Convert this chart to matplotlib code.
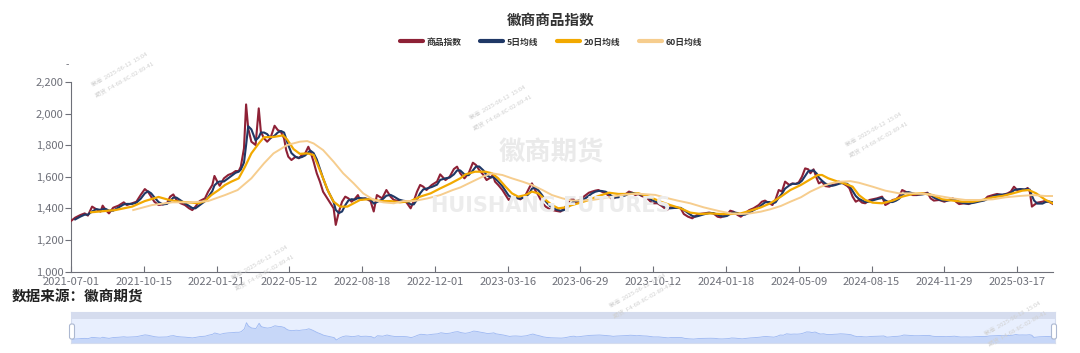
import numpy as np
import matplotlib
matplotlib.use("Agg")
import matplotlib.pyplot as plt
from matplotlib.lines import Line2D
from matplotlib.patches import FancyBboxPatch, Rectangle
from matplotlib.transforms import IdentityTransform
from matplotlib.ticker import FuncFormatter

plt.rcParams['font.family'] = ['Noto Sans CJK SC', 'DejaVu Sans']

# ---------------- data ----------------
title = "徽商商品指数"
series_names = ["商品指数", "5日均线", "20日均线", "60日均线"]
source_text = "数据来源：徽商期货"
tick_labels = ["2021-07-01", "2021-10-15", "2022-01-21", "2022-05-12", "2022-08-18",
               "2022-12-01", "2023-03-16", "2023-06-29", "2023-10-12", "2024-01-18",
               "2024-05-09", "2024-08-15", "2024-11-29", "2025-03-17"]
label_step = 69          # trading days between labelled categories
n_days = 931             # last trading-day index

# commodity index (trading-day index, value)
index_day = [0, 4, 9, 13, 16, 20, 24, 28, 30, 33, 36, 40, 45, 50, 53, 58, 62, 66, 70, 73,
             76, 79, 83, 87, 91, 94, 97, 100, 104, 108, 112, 115, 118, 122, 127, 130, 134, 136, 139, 141,
             145, 149, 153, 156, 159, 161, 164, 166, 168, 171, 175, 178, 180, 183, 186, 189, 193, 196, 199, 202,
             204, 206, 209, 213, 216, 219, 222, 225, 227, 230, 233, 236, 239, 243, 246, 249, 251, 254, 257, 260,
             263, 266, 269, 272, 274, 279, 284, 287, 290, 295, 299, 303, 306, 311, 315, 318, 322, 325, 328, 331,
             334, 337, 342, 347, 350, 355, 359, 363, 366, 369, 373, 377, 381, 384, 387, 391, 394, 398, 400, 402,
             405, 409, 412, 415, 418, 421, 426, 431, 435, 437, 440, 443, 447, 450, 454, 459, 464, 467, 470, 473,
             476, 478, 481, 484, 488, 491, 494, 497, 500, 503, 507, 510, 513, 516, 519, 522, 526, 529, 532, 535,
             538, 541, 545, 548, 551, 556, 560, 565, 568, 573, 578, 581, 585, 589, 592, 595, 600, 605, 609, 613,
             616, 619, 622, 625, 628, 632, 635, 639, 643, 647, 652, 655, 658, 662, 665, 668, 671, 674, 677, 681,
             684, 687, 690, 693, 696, 699, 701, 704, 707, 709, 712, 715, 719, 722, 725, 728, 731, 736, 738, 741,
             744, 747, 750, 753, 757, 760, 764, 769, 772, 775, 779, 782, 785, 788, 791, 794, 798, 802, 807, 812,
             815, 818, 823, 828, 832, 836, 839, 842, 847, 851, 856, 861, 866, 869, 874, 878, 883, 888, 891, 894,
             897, 900, 904, 907, 909, 911, 913, 916, 921, 924, 927, 931]
index_val = [1320, 1341, 1358, 1368, 1354, 1411, 1394, 1379, 1417, 1389, 1368, 1404, 1417, 1438, 1421, 1432, 1442, 1484, 1522, 1505,
             1474, 1442, 1421, 1425, 1432, 1474, 1488, 1453, 1432, 1421, 1400, 1389, 1411, 1446, 1463, 1505, 1548, 1605, 1565, 1543,
             1590, 1611, 1622, 1636, 1636, 1664, 1780, 2058, 1906, 1822, 1801, 2033, 1885, 1843, 1822, 1843, 1923, 1896, 1885, 1843,
             1769, 1727, 1706, 1727, 1717, 1738, 1748, 1790, 1759, 1695, 1622, 1569, 1505, 1463, 1432, 1400, 1295, 1379, 1442, 1474,
             1463, 1442, 1459, 1484, 1453, 1463, 1446, 1380, 1484, 1463, 1516, 1474, 1453, 1446, 1446, 1438, 1400, 1446, 1505, 1548,
             1537, 1516, 1548, 1569, 1615, 1579, 1600, 1649, 1664, 1622, 1590, 1622, 1689, 1674, 1643, 1611, 1579, 1596, 1611, 1569,
             1548, 1516, 1484, 1453, 1470, 1474, 1457, 1484, 1537, 1558, 1516, 1484, 1432, 1411, 1394, 1385, 1379, 1394, 1421, 1453,
             1463, 1436, 1442, 1463, 1484, 1499, 1506, 1512, 1516, 1506, 1495, 1478, 1457, 1470, 1478, 1484, 1491, 1506, 1499, 1484,
             1491, 1478, 1470, 1453, 1432, 1432, 1415, 1389, 1406, 1406, 1400, 1364, 1347, 1337, 1351, 1364, 1368, 1373, 1368, 1347,
             1343, 1351, 1358, 1385, 1379, 1358, 1347, 1368, 1389, 1400, 1421, 1442, 1449, 1432, 1421, 1457, 1516, 1506, 1569, 1548,
             1558, 1554, 1565, 1600, 1653, 1647, 1622, 1647, 1590, 1558, 1569, 1541, 1537, 1548, 1554, 1569, 1562, 1541, 1527, 1474,
             1442, 1453, 1436, 1432, 1453, 1457, 1463, 1474, 1421, 1432, 1453, 1457, 1474, 1516, 1506, 1495, 1484, 1484, 1491, 1499,
             1463, 1449, 1453, 1442, 1453, 1463, 1442, 1427, 1432, 1427, 1442, 1449, 1453, 1474, 1484, 1491, 1484, 1495, 1506, 1537,
             1516, 1520, 1516, 1529, 1506, 1411, 1421, 1436, 1442, 1449, 1442, 1427]

# 5-day MA, read at index_day[1:]
ma5_val = [1330, 1348, 1360, 1360, 1380, 1395, 1390, 1395, 1396, 1385, 1385, 1405, 1425, 1428, 1428, 1436, 1460, 1495, 1508,
           1495, 1470, 1440, 1425, 1428, 1445, 1468, 1468, 1450, 1432, 1415, 1402, 1400, 1420, 1445, 1470, 1510, 1545, 1565, 1570,
           1570, 1590, 1610, 1625, 1632, 1645, 1690, 1800, 1920, 1900, 1830, 1850, 1880, 1880, 1870, 1845, 1860, 1880, 1890, 1880,
           1840, 1800, 1750, 1725, 1720, 1725, 1735, 1755, 1765, 1750, 1710, 1650, 1590, 1520, 1480, 1440, 1390, 1370, 1380, 1420,
           1450, 1458, 1455, 1465, 1465, 1462, 1455, 1430, 1440, 1455, 1480, 1485, 1475, 1455, 1448, 1445, 1425, 1425, 1455, 1495,
           1520, 1525, 1535, 1550, 1580, 1590, 1595, 1615, 1640, 1640, 1615, 1610, 1640, 1665, 1665, 1640, 1610, 1595, 1598, 1590,
           1570, 1540, 1510, 1480, 1468, 1465, 1462, 1470, 1500, 1525, 1530, 1515, 1480, 1445, 1415, 1395, 1385, 1388, 1400, 1420,
           1440, 1445, 1448, 1450, 1465, 1480, 1495, 1505, 1510, 1510, 1505, 1492, 1475, 1468, 1470, 1475, 1483, 1495, 1498, 1493,
           1490, 1485, 1478, 1465, 1450, 1438, 1425, 1405, 1400, 1403, 1403, 1390, 1370, 1352, 1347, 1352, 1362, 1370, 1370, 1360,
           1352, 1348, 1352, 1365, 1375, 1370, 1358, 1360, 1372, 1388, 1405, 1422, 1438, 1440, 1432, 1438, 1468, 1492, 1525, 1545,
           1555, 1555, 1558, 1575, 1605, 1635, 1638, 1640, 1620, 1595, 1575, 1558, 1545, 1543, 1548, 1555, 1560, 1555, 1542, 1510,
           1478, 1460, 1450, 1440, 1442, 1450, 1458, 1466, 1450, 1440, 1440, 1448, 1460, 1485, 1500, 1503, 1495, 1488, 1488, 1494,
           1485, 1468, 1455, 1448, 1450, 1455, 1452, 1440, 1432, 1430, 1435, 1443, 1450, 1460, 1475, 1485, 1487, 1490, 1498, 1515,
           1520, 1522, 1520, 1522, 1518, 1480, 1450, 1430, 1430, 1440, 1443, 1438]

# 20-day MA
ma20_day = [19, 42, 58, 70, 83, 92, 102, 111, 121, 127, 133, 140, 146, 152, 159, 165, 171, 178, 183, 192,
            201, 205, 211, 217, 224, 230, 234, 239, 244, 249, 255, 262, 268, 274, 284, 293, 303, 312, 322, 331,
            341, 350, 360, 369, 374, 383, 393, 399, 405, 412, 418, 424, 431, 437, 443, 450, 456, 462, 469, 475,
            481, 491, 500, 510, 519, 529, 538, 548, 559, 568, 578, 587, 597, 606, 616, 625, 635, 644, 654, 663,
            673, 682, 692, 701, 708, 712, 718, 727, 733, 741, 747, 753, 760, 769, 779, 788, 798, 807, 817, 826,
            836, 845, 855, 864, 874, 883, 893, 902, 908, 915, 924, 931]
ma20_val = [1375, 1389, 1411, 1446, 1472, 1455, 1442, 1438, 1432, 1446, 1484, 1516, 1548, 1569, 1590, 1664, 1748, 1811, 1850, 1852,
            1862, 1835, 1775, 1745, 1748, 1738, 1674, 1590, 1505, 1442, 1411, 1411, 1432, 1453, 1459, 1446, 1446, 1438, 1446, 1474,
            1495, 1526, 1558, 1590, 1615, 1632, 1632, 1622, 1590, 1537, 1495, 1474, 1484, 1506, 1495, 1453, 1421, 1400, 1406, 1421,
            1432, 1453, 1478, 1499, 1491, 1491, 1495, 1474, 1442, 1421, 1400, 1373, 1364, 1368, 1364, 1364, 1368, 1385, 1406, 1432,
            1474, 1516, 1548, 1584, 1611, 1611, 1590, 1569, 1558, 1537, 1484, 1453, 1436, 1432, 1449, 1474, 1491, 1495, 1484, 1457,
            1449, 1442, 1442, 1453, 1470, 1478, 1495, 1512, 1516, 1495, 1453, 1432]

# 60-day MA
ma60_day = [59, 77, 96, 115, 130, 146, 158, 171, 183, 192, 205, 217, 224, 230, 239, 249, 258, 268, 277, 287,
            296, 306, 315, 325, 338, 350, 362, 369, 377, 390, 399, 409, 418, 428, 437, 447, 456, 466, 475, 485,
            494, 504, 513, 522, 532, 541, 554, 562, 575, 587, 600, 613, 625, 635, 644, 654, 663, 673, 682, 692,
            701, 711, 720, 730, 739, 747, 760, 772, 785, 798, 810, 823, 836, 848, 861, 874, 886, 899, 912, 924, 931]
ma60_val = [1389, 1421, 1438, 1438, 1446, 1484, 1516, 1590, 1685, 1748, 1801, 1822, 1826, 1811, 1769, 1695, 1622, 1558, 1495, 1453,
            1438, 1432, 1446, 1446, 1463, 1484, 1516, 1532, 1558, 1600, 1622, 1611, 1590, 1569, 1548, 1516, 1484, 1463, 1449, 1449,
            1453, 1463, 1474, 1484, 1491, 1491, 1485, 1470, 1449, 1432, 1406, 1385, 1368, 1364, 1368, 1379, 1394, 1415, 1442, 1470,
            1506, 1537, 1558, 1569, 1572, 1562, 1537, 1512, 1495, 1495, 1491, 1478, 1463, 1453, 1453, 1457, 1470, 1478, 1484, 1478, 1478]

assert len(index_day) == len(index_val)
assert len(index_day) - 1 == len(ma5_val)
assert len(ma20_day) == len(ma20_val)
assert len(ma60_day) == len(ma60_val)

colors = ["#8E2136", "#1F3866", "#F2A900", "#F6CD8E"]
axis_gray = "#6E7079"

# ---------------- figure ----------------
W, H = 1080, 353
fig = plt.figure(figsize=(W / 100, H / 100), dpi=100)
fig.patch.set_facecolor("white")

def fx(px):
    return px / W

def fy(py):
    return 1 - py / H

ax = fig.add_axes([fx(71), fy(271.5), fx(1053) - fx(71), fy(82) - fy(271.5)])
ax.set_xlim(0, n_days)
ax.set_ylim(1000, 2200)

# watermarks
fig.text(fx(551), fy(153), "徽商期货", ha="center", va="center", fontsize=19,
         fontweight="bold", color="#EAEAEA", zorder=0)
fig.text(fx(551), fy(206), "HUISHANG FUTURES", ha="center", va="center", fontsize=15,
         fontweight="bold", color="#ECECEC", zorder=0,
         family=["DejaVu Sans"])
wm = "徽商  2025-06-12  15:04\n期货  F4-68-8C-02-89-41"
for (px, py) in [(122, 75), (500, 108), (876, 135), (262, 268), (640, 296), (1015, 324)]:
    fig.text(fx(px), fy(py), wm, ha="center", va="center", fontsize=4.3,
             rotation=30, color="#D0D0D0", zorder=0, linespacing=2.2)

lw = 1.5
ax.plot(index_day, index_val, color=colors[0], lw=lw, zorder=3, solid_joinstyle="round")
ax.plot(index_day[1:], ma5_val, color=colors[1], lw=lw, zorder=4, solid_joinstyle="round")
ax.plot(ma20_day, ma20_val, color=colors[2], lw=1.6, zorder=5, solid_joinstyle="round")
ax.plot(ma60_day, ma60_val, color=colors[3], lw=1.4, zorder=6, solid_joinstyle="round")

ax.set_facecolor("none")
for s in ["top", "right"]:
    ax.spines[s].set_visible(False)
for s in ["left", "bottom"]:
    ax.spines[s].set_color(axis_gray)
    ax.spines[s].set_linewidth(0.8)

ax.set_xticks(np.arange(len(tick_labels)) * label_step)
ax.set_xticklabels(tick_labels)
ax.set_yticks(np.arange(1000, 2201, 200))
ax.yaxis.set_major_formatter(FuncFormatter(lambda v, p: f"{int(v):,}"))
ax.tick_params(axis="x", direction="in", length=4, width=0.8, color=axis_gray,
               labelcolor=axis_gray, labelsize=8, pad=4)
ax.tick_params(axis="y", direction="out", length=4, width=0.8, color=axis_gray,
               labelcolor=axis_gray, labelsize=8, pad=1.5)
ax.text(-0.002, 1.09, "-", transform=ax.transAxes, ha="right", va="center",
        fontsize=7, color=axis_gray)

# title & legend
fig.text(fx(551), fy(20), title, ha="center", va="center", fontsize=10.5,
         fontweight="bold", color="#333333")
handles = [Line2D([0], [0], color=c, lw=3, solid_capstyle="round") for c in colors]
leg = fig.legend(handles, series_names, loc="center", bbox_to_anchor=(fx(551), fy(42)),
                 ncol=4, frameon=False, handlelength=2.6, handletextpad=0.4,
                 columnspacing=2.2, prop={"size": 6.3, "weight": "bold"})
for t in leg.get_texts():
    t.set_color("#333333")

fig.text(fx(12), fy(297), source_text, ha="left", va="center", fontsize=10.5,
         fontweight="bold", color="#222222")

# data-zoom slider
sx0, sx1, sy0, sy1 = 71, 1055, 312.4, 343.3
sax = fig.add_axes([fx(sx0), fy(sy1), fx(sx1) - fx(sx0), fy(sy0) - fy(sy1)])
sax.set_xlim(0, n_days)
sax.set_ylim(1150, 2512)
sax.set_facecolor("#E8EFFE")
sax.fill_between(index_day, index_val, 1150, color="#C7D7F8", lw=0)
sax.plot(index_day, index_val, color="#9DB8F2", lw=0.6)
sax.add_patch(Rectangle((0, 1 - 6.2 / (sy1 - sy0)), 1, 6.2 / (sy1 - sy0),
                        transform=sax.transAxes, color="#D5DCEE", lw=0))
sax.set_xticks([])
sax.set_yticks([])
for s in sax.spines.values():
    s.set_color("#D5DCEE")
    s.set_linewidth(0.8)

for hx in (sx0 + 1, sx1 - 1):
    fig.add_artist(FancyBboxPatch((hx - 2.5, H - 339), 5, 15,
                                  boxstyle="round,pad=0,rounding_size=2",
                                  transform=IdentityTransform(),
                                  facecolor="white", edgecolor="#ACB8D1", lw=0.8,
                                  zorder=10))

fig.savefig("out.png", dpi=100)
